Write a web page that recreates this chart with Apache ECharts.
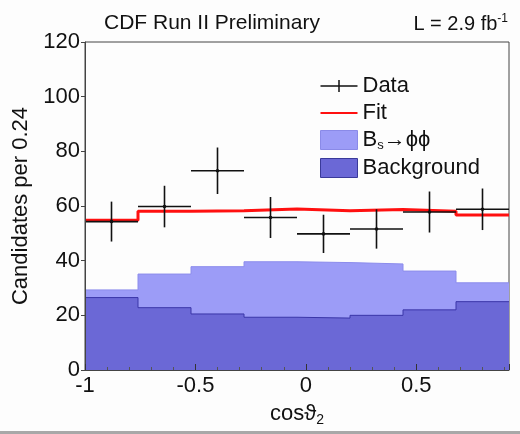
<!DOCTYPE html>
<html><head><meta charset="utf-8">
<script src="https://cdn.jsdelivr.net/npm/echarts@6/dist/echarts.min.js"></script>
<style>html,body{margin:0;padding:0;background:#fdfdfd}#c{width:520px;height:434px}</style>
</head><body><div id="c"></div>
<script>
const binStart = -1.0;
const binWidth = 0.24;
const dataValues = [54.3, 59.8, 72.9, 55.8, 49.8, 51.6, 57.8, 58.8];
const dataErrors = [7.3, 7.6, 8.5, 7.5, 7.0, 7.2, 7.5, 7.6];
const fitValues = [54.8, 58.1, 58.3, 58.9, 58.3, 58.7, 58.1, 56.7];
const totalValues = [29.3, 35.1, 37.8, 39.6, 39.3, 38.8, 36.2, 31.9];
const backgroundValues = [26.5, 22.8, 20.5, 19.3, 19.0, 20.0, 22.0, 25.0];
const xTickLabels = ['-1', '-0.5', '0', '0.5'];
const yTickLabels = ['0', '20', '40', '60', '80', '100', '120'];

const nBins = dataValues.length;
const edges = Array.from({length: nBins + 1}, (_, i) => +(binStart + i * binWidth).toFixed(4));
const centers = edges.slice(0, nBins).map(e => +(e + binWidth / 2).toFixed(4));
function stepData(vals) {
  const d = vals.map((v, i) => [edges[i], v]);
  d.push([edges[nBins], vals[nBins - 1]]);
  return d;
}
const font = 'Liberation Sans, Arial, Helvetica, sans-serif';
const chart = echarts.init(document.getElementById('c'), null, {renderer: 'canvas'});
chart.setOption({
  backgroundColor: '#fdfdfd',
  animation: false,
  grid: {left: 85, right: 11, top: 42, bottom: 64, show: true, borderColor: '#444', borderWidth: 1, backgroundColor: 'transparent'},
  title: [
    {text: 'CDF Run II Preliminary', left: 99, top: 8, textStyle: {fontFamily: font, fontSize: 21, fontWeight: 'normal', color: '#111'}},
    {text: 'L = 2.9 fb{s|-1}', right: 7, top: 8, textStyle: {fontFamily: font, fontSize: 20, fontWeight: 'normal', color: '#111', rich: {s: {fontFamily: font, fontSize: 12, verticalAlign: 'top', padding: [0,0,11,0], color: '#111'}}}}
  ],
  legend: {
    left: 318, top: 75, padding: 0, orient: 'vertical', itemGap: 5, itemWidth: 37, itemHeight: 19,
    textStyle: {fontFamily: font, fontSize: 22, color: '#111', rich: {sub: {fontFamily: font, fontSize: 13, verticalAlign: 'bottom', padding: [11,0,0,0], color: '#111'}, n: {fontFamily: font, fontSize: 22, color: '#111'}}},
    formatter: function (name) { return name === 'Bs' ? '{n|B}{sub|s}{n|→ϕϕ}' : name; },
    data: [
      {name: 'Data', icon: 'path://M0,9 L37,9 M18.5,3 L18.5,15 Z', itemStyle: {color: 'none', borderColor: '#111', borderWidth: 1.5}},
      {name: 'Fit', icon: 'path://M0,8.5 L37,8.5 L37,10.5 L0,10.5 Z', itemStyle: {color: '#ff1010'}},
      {name: 'Bs', icon: 'rect', itemStyle: {color: '#9c9cf7', borderColor: '#8a8ae8', borderWidth: 1}},
      {name: 'Background', icon: 'rect', itemStyle: {color: '#6b68d6', borderColor: '#3a3a9a', borderWidth: 1}}
    ]
  },
  xAxis: {
    type: 'value', min: -1, max: edges[nBins], interval: 0.5, z: 10,
    name: 'cosϑ{s|2}', nameLocation: 'middle', nameGap: 30,
    nameTextStyle: {fontFamily: font, fontSize: 22, color: '#111', rich: {s: {fontFamily: font, fontSize: 14, verticalAlign: 'bottom', padding: [13,0,0,0], color: '#111'}}},
    axisLine: {show: true, onZero: false, lineStyle: {color: '#444'}},
    axisTick: {show: true, inside: true, length: 6, lineStyle: {color: '#333'}},
    minorTick: {show: true, splitNumber: 5, length: 3, lineStyle: {color: '#555'}},
    splitLine: {show: false},
    axisLabel: {fontFamily: font, fontSize: 22, color: '#111', margin: 5, showMaxLabel: false,
      formatter: function (v) { const i = Math.round((v + 1) / 0.5); return xTickLabels[i] !== undefined ? xTickLabels[i] : ''; }}
  },
  yAxis: {
    type: 'value', min: 0, max: 120, interval: 20, z: 10,
    name: 'Candidates per 0.24', nameLocation: 'middle', nameGap: 52,
    nameTextStyle: {fontFamily: font, fontSize: 22, color: '#111'},
    axisLine: {show: true, onZero: false, lineStyle: {color: '#444'}},
    axisTick: {show: true, inside: false, length: 4, lineStyle: {color: '#444'}},
    splitLine: {show: false},
    axisLabel: {fontFamily: font, fontSize: 22, color: '#111', margin: 5,
      formatter: function (v) { return yTickLabels[Math.round(v / 20)]; }}
  },
  series: [
    {name: 'Bs', type: 'line', step: 'end', symbol: 'none', data: stepData(totalValues),
      lineStyle: {color: '#8c8cec', width: 1}, itemStyle: {color: '#9c9cf7'}, areaStyle: {color: '#9c9cf7', opacity: 1}, z: 1},
    {name: 'Background', type: 'line', step: 'end', symbol: 'none', data: stepData(backgroundValues),
      lineStyle: {color: '#3a36a8', width: 1}, itemStyle: {color: '#6b68d6'}, areaStyle: {color: '#6b68d6', opacity: 1}, z: 2},
    {name: 'Fit', type: 'line', step: 'end', symbol: 'none', data: stepData(fitValues),
      lineStyle: {color: '#ff1010', width: 3}, itemStyle: {color: '#ff1010'}, z: 3},
    {name: 'Data', type: 'custom', z: 4, itemStyle: {color: '#111'},
      data: centers.map((c, i) => [c, dataValues[i], dataErrors[i]]),
      renderItem: function (params, api) {
        const x = api.value(0), y = api.value(1), e = api.value(2);
        const l = api.coord([x - binWidth / 2, y]);
        const r = api.coord([x + binWidth / 2, y]);
        const t = api.coord([x, y + e]);
        const b = api.coord([x, y - e]);
        const st = {stroke: '#111', lineWidth: 1.6};
        return {type: 'group', children: [
          {type: 'line', shape: {x1: l[0], y1: l[1], x2: r[0], y2: r[1]}, style: st},
          {type: 'line', shape: {x1: t[0], y1: t[1], x2: b[0], y2: b[1]}, style: st},
          {type: 'circle', shape: {cx: l[0] + (r[0]-l[0])/2, cy: l[1], r: 1.8}, style: {fill: '#111'}}
        ]};
      }}
  ],
  graphic: [
    {type: 'rect', left: 0, top: 431, shape: {width: 520, height: 3}, style: {fill: '#a8a8a8'}}
  ]
});
</script></body></html>
